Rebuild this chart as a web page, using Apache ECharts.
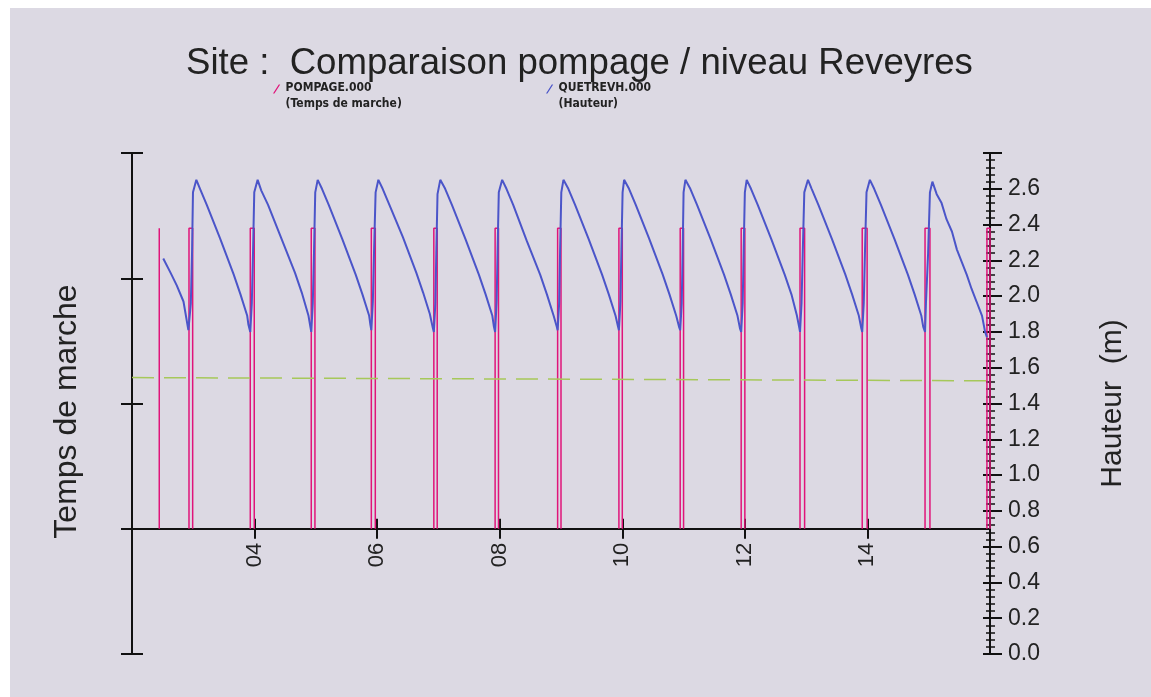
<!DOCTYPE html>
<html>
<head>
<meta charset="utf-8">
<script src="https://cdn.jsdelivr.net/npm/echarts@6/dist/echarts.min.js"></script>
<style>
  html, body { margin: 0; background: #fff; }
  #bg { position: absolute; left: 10px; top: 8px; right: 0; bottom: 0; background: #dcd9e3; }
  #chart { position: absolute; left: 0; top: 0; width: 1151px; height: 697px; }
</style>
</head>
<body>
<div id="bg"></div>
<div id="chart"></div>
<script>
// heures de marche de la pompe (debut / fin de chaque marche, en heures)
const pompageDebut = [2.445, 2.93, 3.93, 4.925, 5.905, 6.925, 7.925, 8.945, 9.945, 10.945, 11.94, 12.90, 13.915, 14.94, 15.95];
const pompageFin   = [2.445, 2.99, 3.995, 4.985, 5.97, 6.98, 7.98, 9.0, 10.0, 11.0, 12.0, 12.975, 13.995, 15.02, 16.0];
const pompageNiveau = 2.4;

// hauteur d'eau (heure, m)
const hauteur = [
  [2.51, 2.21], [2.63, 2.13], [2.73, 2.06], [2.84, 1.97], [2.92, 1.81],
  [2.935, 1.80], [2.96, 1.96], [2.98, 2.25], [2.995, 2.58], [3.05, 2.65], [3.11, 2.60], [3.22, 2.51], [3.44, 2.32], [3.66, 2.12], [3.77, 2.01], [3.88, 1.89], [3.90, 1.84],
  [3.93, 1.80], [3.955, 1.96], [3.975, 2.25], [3.995, 2.58], [4.05, 2.65], [4.11, 2.59], [4.22, 2.51], [4.44, 2.32], [4.66, 2.13], [4.77, 2.02], [4.88, 1.89], [4.91, 1.83],
  [4.925, 1.80], [4.95, 1.96], [4.97, 2.25], [4.99, 2.58], [5.03, 2.65], [5.10, 2.60], [5.21, 2.51], [5.43, 2.32], [5.65, 2.12], [5.76, 2.01], [5.87, 1.89], [5.89, 1.84],
  [5.905, 1.81], [5.93, 1.97], [5.95, 2.26], [5.975, 2.58], [6.02, 2.65], [6.09, 2.60], [6.20, 2.51], [6.42, 2.33], [6.64, 2.13], [6.75, 2.02], [6.86, 1.90], [6.91, 1.82],
  [6.925, 1.80], [6.95, 1.96], [6.965, 2.24], [6.985, 2.57], [7.03, 2.65], [7.11, 2.60], [7.22, 2.51], [7.44, 2.32], [7.66, 2.12], [7.77, 2.01], [7.88, 1.89], [7.905, 1.83],
  [7.925, 1.80], [7.95, 1.97], [7.965, 2.25], [7.985, 2.58], [8.04, 2.65], [8.11, 2.60], [8.22, 2.51], [8.44, 2.31], [8.66, 2.12], [8.77, 2.01], [8.88, 1.89], [8.93, 1.83],
  [8.945, 1.81], [8.97, 1.96], [8.985, 2.25], [9.005, 2.58], [9.04, 2.65], [9.12, 2.60], [9.23, 2.51], [9.45, 2.32], [9.67, 2.12], [9.78, 2.01], [9.89, 1.89], [9.93, 1.83],
  [9.945, 1.81], [9.97, 1.97], [9.985, 2.25], [10.005, 2.58], [10.03, 2.65], [10.11, 2.60], [10.22, 2.51], [10.44, 2.32], [10.66, 2.12], [10.77, 2.01], [10.88, 1.89], [10.925, 1.83],
  [10.945, 1.81], [10.97, 1.96], [10.985, 2.25], [11.0, 2.58], [11.03, 2.65], [11.11, 2.60], [11.22, 2.51], [11.44, 2.32], [11.66, 2.12], [11.77, 2.01], [11.88, 1.89], [11.92, 1.82],
  [11.94, 1.80], [11.965, 1.96], [11.98, 2.25], [12.0, 2.58], [12.03, 2.65], [12.10, 2.60], [12.21, 2.51], [12.43, 2.32], [12.65, 2.12], [12.76, 2.01], [12.85, 1.89], [12.89, 1.82],
  [12.90, 1.80], [12.925, 1.96], [12.945, 2.25], [12.97, 2.58], [13.03, 2.65], [13.09, 2.60], [13.20, 2.51], [13.42, 2.32], [13.64, 2.12], [13.75, 2.01], [13.86, 1.89], [13.90, 1.82],
  [13.915, 1.80], [13.94, 1.96], [13.96, 2.25], [13.985, 2.58], [14.04, 2.65], [14.11, 2.60], [14.22, 2.51], [14.44, 2.32], [14.66, 2.12], [14.77, 2.01], [14.88, 1.89], [14.91, 1.83],
  [14.94, 1.80], [14.955, 1.96], [14.99, 2.24], [15.02, 2.58], [15.06, 2.64], [15.13, 2.57], [15.21, 2.52], [15.29, 2.43], [15.38, 2.36], [15.46, 2.26], [15.54, 2.19], [15.62, 2.12], [15.70, 2.04], [15.78, 1.97], [15.87, 1.89], [15.92, 1.80], [15.95, 1.77]
];

// ligne de consigne (pointillés verts)
const seuil = [[2, 1.545], [16, 1.527]];

const xTicks = ['04', '06', '08', '10', '12', '14'];

const pompageData = [];
pompageDebut.forEach((d, i) => {
  const f = pompageFin[i];
  pompageData.push([d, 0], [d, pompageNiveau], [f, pompageNiveau], [f, 0], [f, '-']);
});

const black = '#111';
const txt = '#222';
const font = 'Liberation Sans, Arial, sans-serif';
const legendFont = 'Liberation Sans Narrow, DejaVu Sans Condensed, sans-serif';
// slash icon, with an invisible dot below so it sits on the first text line
const slashIcon = 'path://M0,10 L1.6,10 L8,0 L6.4,0 Z M0,25.5 L0.01,25.5 L0,25.51 Z';

// grid: 501px high, left axis -1..3 -> the time axis sits on 0
const gridTop = 153, gridHeight = 501;
const xOffset = -gridHeight / 4;

const chart = echarts.init(document.getElementById('chart'));
chart.setOption({
  animation: false,
  backgroundColor: 'transparent',
  title: {
    text: 'Site :  Comparaison pompage / niveau Reveyres',
    left: 186,
    top: 45,
    padding: 0,
    textStyle: { fontSize: 36.6, fontWeight: 'normal', fontFamily: font, color: txt }
  },
  legend: [
    {
      data: ['POMPAGE.000'],
      left: 273, top: 80, padding: 0,
      itemWidth: 8, itemHeight: 23, itemGap: 0,
      icon: slashIcon,
      formatter: n => n + '\n(Temps de marche)',
      textStyle: { fontSize: 12, fontWeight: 'bold', lineHeight: 16, color: txt, fontFamily: legendFont }
    },
    {
      data: ['QUETREVH.000'],
      left: 546, top: 80, padding: 0,
      itemWidth: 8, itemHeight: 23, itemGap: 0,
      icon: slashIcon,
      formatter: n => n + '\n(Hauteur)',
      textStyle: { fontSize: 12, fontWeight: 'bold', lineHeight: 16, color: txt, fontFamily: legendFont }
    }
  ],
  grid: { left: 132, top: gridTop, width: 858, height: gridHeight },
  xAxis: [
    {
      type: 'value', min: 2, max: 16, interval: 2, offset: xOffset,
      axisLine: { onZero: false, lineStyle: { color: black, width: 2 } },
      axisTick: { length: 10, lineStyle: { color: black, width: 2 } },
      axisLabel: {
        rotate: 90, fontSize: 22, margin: 14, color: txt, fontFamily: font,
        showMinLabel: false, showMaxLabel: false,
        formatter: v => xTicks[(v - 4) / 2] || ''
      },
      splitLine: { show: false }
    },
    {
      type: 'value', position: 'bottom', min: 2, max: 16, interval: 2, offset: xOffset,
      axisLine: { show: false, onZero: false },
      axisTick: { inside: true, length: 10, lineStyle: { color: black, width: 2 } },
      axisLabel: { show: false },
      splitLine: { show: false }
    }
  ],
  yAxis: [
    {
      type: 'value', position: 'left', min: -1, max: 3, interval: 1,
      name: 'Temps de marche', nameLocation: 'middle', nameGap: 49,
      nameTextStyle: { fontSize: 32, color: txt, fontFamily: font, padding: [0, 16, 0, 0] },
      axisLine: { show: true, onZero: false, lineStyle: { color: black, width: 2 } },
      axisTick: { show: true, length: 11, lineStyle: { color: black, width: 2 } },
      axisLabel: { show: false },
      splitLine: { show: false }
    },
    {
      type: 'value', position: 'right', min: 0, max: 2.8, interval: 0.2,
      name: 'Hauteur  (m)', nameLocation: 'middle', nameGap: 108,
      nameTextStyle: { fontSize: 30, color: txt, fontFamily: font },
      axisLine: { show: true, onZero: false, lineStyle: { color: black, width: 2 } },
      axisTick: { show: true, length: 12, lineStyle: { color: black, width: 2 } },
      minorTick: { show: true, splitNumber: 5, length: 5, lineStyle: { color: black, width: 1.5 } },
      axisLabel: { fontSize: 23, margin: 18, color: txt, fontFamily: font, showMaxLabel: false, formatter: v => v.toFixed(1) },
      splitLine: { show: false }
    },
    {
      type: 'value', position: 'left', min: -1, max: 3, interval: 1,
      axisLine: { show: false, onZero: false },
      axisTick: { show: true, inside: true, length: 11, lineStyle: { color: black, width: 2 } },
      axisLabel: { show: false },
      splitLine: { show: false }
    },
    {
      type: 'value', position: 'right', min: 0, max: 2.8, interval: 0.2,
      axisLine: { show: false, onZero: false },
      axisTick: { show: true, inside: true, length: 7, lineStyle: { color: black, width: 2 } },
      minorTick: { show: true, splitNumber: 5, length: 4, lineStyle: { color: black, width: 1.5 } },
      axisLabel: { show: false },
      splitLine: { show: false }
    }
  ],
  series: [
    {
      name: 'POMPAGE.000', type: 'line', yAxisIndex: 0,
      data: pompageData, showSymbol: false, symbol: 'none', connectNulls: false,
      itemStyle: { color: '#e0147a' },
      lineStyle: { color: '#e0147a', width: 1.5 }
    },
    {
      name: 'QUETREVH.000', type: 'line', yAxisIndex: 1,
      data: hauteur, showSymbol: false, symbol: 'none',
      itemStyle: { color: '#4b55c9' },
      lineStyle: { color: '#4b55c9', width: 2 }
    },
    {
      name: 'seuil', type: 'line', yAxisIndex: 1,
      data: seuil, showSymbol: false, symbol: 'none', silent: true,
      lineStyle: { color: '#a6c85a', width: 1.5, type: [22, 10] }
    }
  ]
});
</script>
</body>
</html>
